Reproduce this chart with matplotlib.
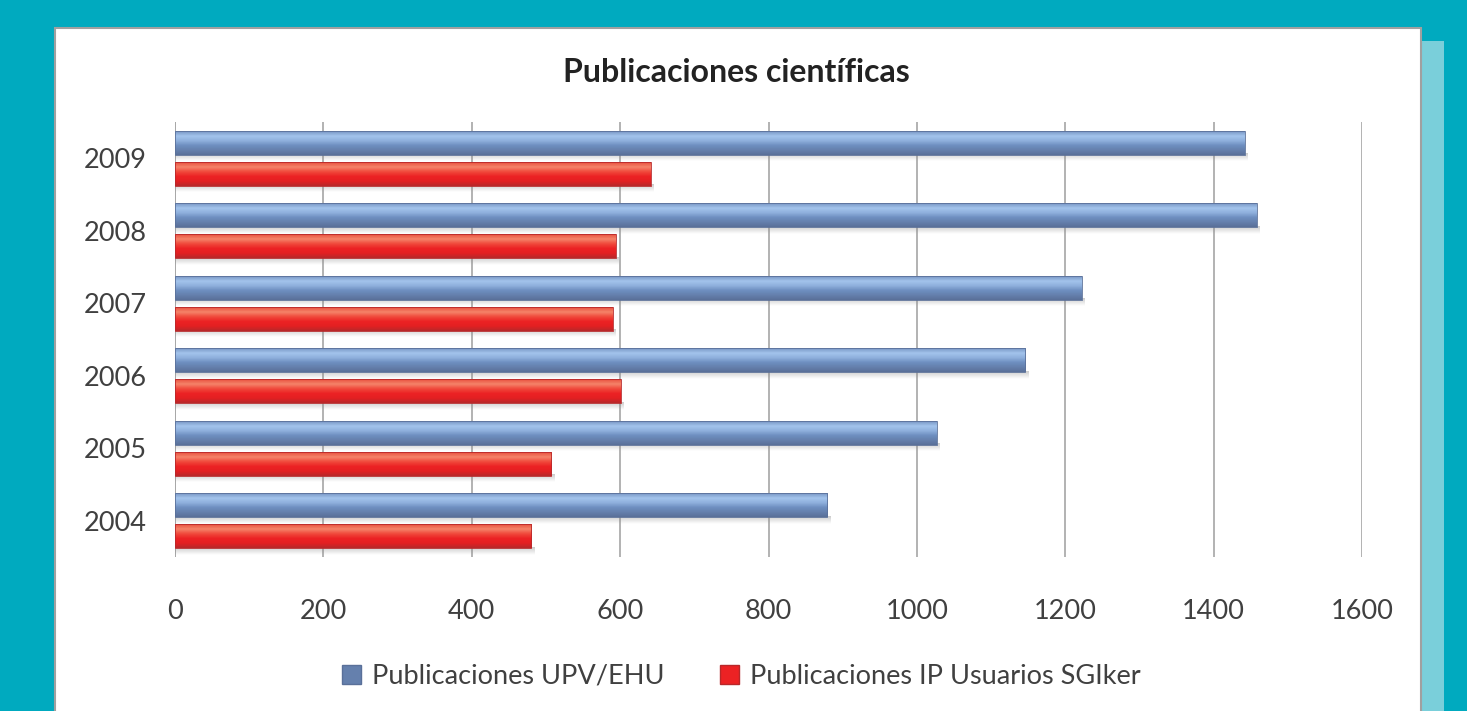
#-*- coding: utf-8 -*-
# ----- Include library -----
import numpy as np
import matplotlib
matplotlib.use("Agg")
import matplotlib.pyplot as plt
from matplotlib.patches import Rectangle, Patch
from matplotlib.colors import to_rgb

# ----- Data -----
years = ["2004", "2005", "2006", "2007", "2008", "2009"]
upv_ehu = [879, 1027, 1146, 1222, 1458, 1442]      # Publicaciones UPV/EHU
sgiker = [480, 507, 601, 590, 594, 641]            # Publicaciones IP Usuarios SGIker
x_ticks = [0, 200, 400, 600, 800, 1000, 1200, 1400, 1600]

series_names = ["Publicaciones UPV/EHU", "Publicaciones IP Usuarios SGIker"]

# colores (de arriba a abajo del cilindro)
blue_grad = ["#7896c4", "#a3c4ec", "#8fb0dd", "#6e8fc0", "#6580ad", "#5a7099"]
red_grad = ["#e8503e", "#f5846a", "#f04a3c", "#ec2224", "#e42022", "#b8282a"]
teal = "#00aabf"
teal_light = "#7acfda"
txt_col = "#404040"

plt.rcParams['font.family'] = ['Lato', 'DejaVu Sans']


def grad_image(cols, n=40):
    """ gradiente vertical entre varios colores """
    cols = np.array([to_rgb(c) for c in cols])
    pos = np.linspace(0, 1, len(cols))
    t = np.linspace(0, 1, n)
    img = np.stack([np.interp(t, pos, cols[:, k]) for k in range(3)], axis=1)
    return img[:, None, :]


def draw_bar(ax, y, v, h, cols):
    y0, y1 = y - h / 2, y + h / 2
    # sombra
    sh = np.zeros((20, 1, 4))
    sh[:, 0, :3] = 0.55
    sh[:, 0, 3] = np.linspace(0.45, 0.0, 20)
    ax.imshow(sh, extent=[0, v + 4, y0 - 0.09, y0 + 0.01], aspect='auto',
              origin='upper', interpolation='bilinear', zorder=2)
    ax.imshow(grad_image(cols), extent=[0, v, y0, y1], aspect='auto',
              origin='upper', interpolation='bilinear', zorder=3)
    ax.add_patch(Rectangle((0, y0), v, h, fill=False, ec=cols[-1], lw=0.6, zorder=4))


# ----- Figure -----
fig = plt.figure(figsize=(14.67, 7.11), dpi=100)
fig.patch.set_facecolor(teal)
# franja clara derecha
fig.patches.append(Rectangle((1421 / 1467, 0), 23 / 1467, 1 - 41 / 711,
                             transform=fig.transFigure, fc=teal_light, ec='none', zorder=-2))
# panel blanco
fig.patches.append(Rectangle((55 / 1467, -0.01), 1366 / 1467, 1.01 - 28 / 711,
                             transform=fig.transFigure, fc='white', ec='#a0a0a0', lw=1.5, zorder=-1))

ax = fig.add_axes([175 / 1467, 1 - 557 / 711, 1187 / 1467, 435 / 711])
ax.set_facecolor('none')
ax.set_zorder(2)

idx = np.arange(len(years))
off = 0.214
h = 0.33
for i in idx:
    draw_bar(ax, i + off, upv_ehu[i], h, blue_grad)
    draw_bar(ax, i - off, sgiker[i], h, red_grad)

ax.set_xlim(0, 1600)
ax.set_ylim(-0.5, len(years) - 0.5)
ax.set_xticks(x_ticks)
ax.set_xticklabels([str(t) for t in x_ticks])
ax.set_yticks(idx)
ax.set_yticklabels(years)
ax.tick_params(axis='both', length=0, labelsize=19.5, colors=txt_col)
ax.tick_params(axis='x', pad=30)
ax.tick_params(axis='y', pad=20)
ax.xaxis.grid(True, color='#a6a6a6', lw=1.2)
ax.set_axisbelow(True)
for s in ax.spines.values():
    s.set_visible(False)
ax.axvline(0, color='#a6a6a6', lw=1.2, zorder=1)

fig.text(0.502, 1 - 72 / 711, "Publicaciones científicas", ha='center', va='center',
         fontsize=23, fontweight='bold', color='#222222')

handles = [Patch(fc=blue_grad[4], ec=blue_grad[-1]), Patch(fc=red_grad[3], ec=red_grad[-1])]
fig.legend(handles, series_names, loc='center', bbox_to_anchor=(0.5055, 1 - 676 / 711),
           ncol=2, frameon=False, fontsize=19.5, handlelength=0.7, handleheight=0.7,
           handletextpad=0.4, columnspacing=2.05, labelcolor=txt_col)

fig.savefig("out.png", dpi=100, facecolor=fig.get_facecolor())
